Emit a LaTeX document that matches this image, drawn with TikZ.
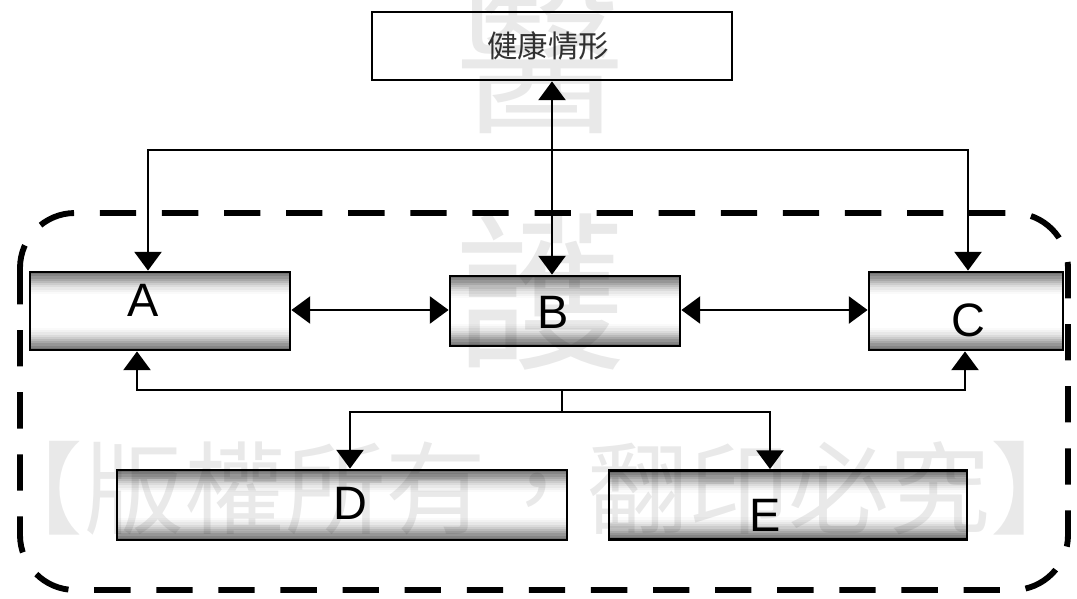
\documentclass[tikz,border=0pt]{standalone}
\usepackage{fontspec}
\setmainfont{Liberation Sans}
\newfontfamily\cjk{Noto Sans CJK TC}
\usetikzlibrary{arrows.meta}
\tikzset{
  stip/.style={draw, line width=2.4pt, inner sep=0pt,
    path picture={
      \foreach \i/\c in {0/55,1/48,2/41,3/34,4/27,5/20,6/14,7/9,8/5,9/2} {
        \fill[black!\c] ([yshift=-\i*0.066cm]path picture bounding box.north west) rectangle ([yshift=-\i*0.066cm-0.067cm]path picture bounding box.north east);
        \fill[black!\c] ([yshift=\i*0.066cm]path picture bounding box.south west) rectangle ([yshift=\i*0.066cm+0.067cm]path picture bounding box.south east);
      }
    }},
  hbox/.style={draw, line width=2.4pt, inner sep=0pt},
  lab/.style={font=\fontsize{40}{40}\selectfont, inner sep=0pt},
  arr/.style={line width=2.2pt, {Triangle[length=16pt,width=23pt]}-{Triangle[length=16pt,width=23pt]}},
  plain/.style={line width=2.2pt},
  wm/.style={opacity=0.085, text=black, inner sep=0pt, font=\cjk\fontsize{145}{145}\selectfont},
  wmrow/.style={opacity=0.085, text=black, inner sep=0pt, font=\cjk\fontsize{86}{86}\selectfont},
  border/.style={line width=5pt, dash pattern=on 31pt off 22pt, rounded corners=1.65cm}
}
\begin{document}
\begin{tikzpicture}[x=0.03cm, y=-0.03cm]
\useasboundingbox (0,0) rectangle (1077,599);
\fill[white] (0,0) rectangle (1077,599);
% dashed enclosure
\draw[border] (20,213) rectangle (1068,590);
% boxes
\node[hbox, minimum width=10.8cm, minimum height=2.04cm] (health) at (552,46) {};
\node[inner sep=0pt, text=black!80, font=\cjk\fontsize{26}{26}\selectfont] (htxt) at (548,46) {健康情形};
\node[stip, minimum width=7.8cm, minimum height=2.34cm] (A) at (160,311) {};
\node[stip, minimum width=6.9cm, minimum height=2.1cm] (B) at (565,311) {};
\node[stip, minimum width=5.82cm, minimum height=2.34cm] (C) at (966,311) {};
\node[stip, minimum width=13.5cm, minimum height=2.1cm] (D) at (342,505) {};
\node[stip, minimum width=10.74cm, minimum height=2.07cm] (E) at (788,505) {};
\node[lab] (Al) at (143,300) {A};
\node[lab] (Bl) at (553,312) {B};
\node[lab] (Cl) at (968,320) {C};
\node[lab] (Dl) at (350,503) {D};
\node[lab] (El) at (765,515) {E};
% connectors
\coordinate (bx) at (552,0);
\draw[arr] (B.north -| bx) -- (health.south -| bx);
\coordinate (t1) at (148,150);
\coordinate (t2) at (968,150);
\draw[arr] (t1 |- A.north) -- (t1) -- (t2) -- (t2 |- C.north);
\coordinate (h) at (0,310);
\draw[arr] (A.east |- h) -- (B.west |- h);
\draw[arr] (B.east |- h) -- (C.west |- h);
\coordinate (ba) at (137,390);
\coordinate (bc) at (965,390);
\coordinate (bm) at (562,390);
\coordinate (bm2) at (562,412);
\coordinate (bd) at (350,412);
\coordinate (be) at (770,412);
\draw[arr] (ba |- A.south) -- (ba) -- (bc) -- (bc |- C.south);
\draw[plain] (bm) -- (bm2);
\draw[arr] (bd |- D.north) -- (bd) -- (be) -- (be |- E.north);
% watermark
\node[wm] (w1) at (540,58) {醫};
\node[wm] (w2) at (540,292) {護};
\node[wmrow] (w3) at (537,488) {【版權所有，翻印必究】};
\end{tikzpicture}
\end{document}
